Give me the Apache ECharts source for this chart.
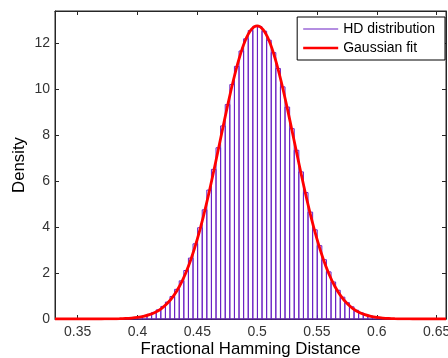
<!DOCTYPE html>
<html>
<head>
<meta charset="utf-8">
<script src="https://cdn.jsdelivr.net/npm/echarts@6/dist/echarts.min.js"></script>
<style>html,body{margin:0;padding:0;background:#fff}#c{width:448px;height:358px}</style>
</head>
<body>
<div id="c"></div>
<script>
// Histogram binning (bin edges of the HD histogram)
const binStart = 0.3311;
const binWidth = 0.003844;
const firstBinIndex = 14;
// Densities of the histogram bins
const densities = [
  0.01, 0.025, 0.044, 0.066, 0.097, 0.141, 0.20, 0.286, 0.398, 0.546,
  0.737, 0.98, 1.29, 1.66, 2.11, 2.65, 3.27, 3.97, 4.75, 5.61,
  6.51, 7.45, 8.40, 9.33, 10.20, 10.99, 11.66, 12.19, 12.55, 12.73,
  12.72, 12.52, 12.13, 11.59, 10.90, 10.10, 9.22, 8.28, 7.34, 6.40,
  5.50, 4.65, 3.88, 3.19, 2.58, 2.05, 1.61, 1.25, 0.95, 0.71,
  0.53, 0.38, 0.27, 0.19, 0.135, 0.092, 0.062, 0.04, 0.025, 0.012
];
// Gaussian fit curve
const fitX = [0.3311, 0.36, 0.37, 0.375, 0.38, 0.385, 0.39, 0.395, 0.40, 0.405, 0.41, 0.415, 0.42, 0.425, 0.43, 0.435, 0.44, 0.445, 0.45, 0.455, 0.46, 0.465, 0.47, 0.475, 0.48, 0.485, 0.49, 0.495, 0.50,
  0.505, 0.51, 0.515, 0.52, 0.525, 0.53, 0.535, 0.54, 0.545, 0.55, 0.555, 0.56, 0.565, 0.57, 0.575, 0.58, 0.585, 0.59, 0.595, 0.60, 0.605, 0.61, 0.615, 0.62, 0.625, 0.63, 0.64, 0.6578];
const fitY = [0, 0, 0.001, 0.003, 0.006, 0.012, 0.023, 0.041, 0.070, 0.116, 0.189, 0.297, 0.456, 0.683, 0.996, 1.415, 1.960, 2.642, 3.472, 4.446, 5.546, 6.741, 7.983, 9.211, 10.354, 11.341, 12.104, 12.586, 12.75,
  12.586, 12.104, 11.341, 10.354, 9.211, 7.983, 6.741, 5.546, 4.446, 3.472, 2.642, 1.960, 1.415, 0.996, 0.683, 0.456, 0.297, 0.189, 0.116, 0.070, 0.041, 0.023, 0.012, 0.006, 0.003, 0.001, 0, 0];
const xTicks = [0.35, 0.4, 0.45, 0.5, 0.55, 0.6, 0.65];
const yTicks = [0, 2, 4, 6, 8, 10, 12];
const seriesNames = ['HD distribution', 'Gaussian fit'];

const purple = '#6a1fc4';
const red = '#ff0000';
const axisColor = '#262626';
const font = "'Liberation Sans', Arial, sans-serif";

const barData = densities.map((d, i) => {
  const lo = binStart + (firstBinIndex + i) * binWidth;
  return [lo, lo + binWidth, d];
});
const fitData = fitX.map((x, i) => [x, fitY[i]]);

const chart = echarts.init(document.getElementById('c'), null, {renderer: 'canvas'});
const xMin = 0.3311, xMax = 0.6578, yMax = 13.4;
const commonAxisLine = {show: true, onZero: false, lineStyle: {color: axisColor, width: 1}};
chart.setOption({
  animation: false,
  backgroundColor: '#fff',
  textStyle: {fontFamily: font},
  grid: {left: 55, right: 2, top: 11, bottom: 39, outerBoundsMode: 'none', containLabel: false,
    show: true, borderColor: axisColor, borderWidth: 1, backgroundColor: 'transparent'},
  legend: {
    right: 3, top: 17,
    orient: 'vertical',
    backgroundColor: '#fff',
    borderColor: '#000', borderWidth: 1, borderRadius: 0,
    padding: [4, 10, 4, 6],
    itemGap: 3,
    itemWidth: 35, itemHeight: 8,
    textStyle: {fontFamily: font, fontSize: 14, color: '#000', lineHeight: 16},
    data: [
      {name: seriesNames[0], icon: 'path://M0,0L100,0L100,3L0,3Z', itemStyle: {color: purple}},
      {name: seriesNames[1], icon: 'path://M0,0L100,0L100,7L0,7Z', itemStyle: {color: red}}
    ]
  },
  xAxis: [{
    type: 'value', min: xMin, max: xMax,
    name: 'Fractional Hamming Distance', nameLocation: 'middle', nameGap: 22, nameMoveOverlap: false,
    nameTextStyle: {fontFamily: font, fontSize: 16.8, color: '#000'},
    axisLine: commonAxisLine,
    axisTick: {show: true, inside: true, length: 4, customValues: xTicks, lineStyle: {color: axisColor}},
    axisLabel: {show: true, customValues: xTicks, margin: 6, fontFamily: font, fontSize: 14, color: '#333',
      formatter: v => String(Math.round(v * 100) / 100)},
    splitLine: {show: false}
  }, {
    type: 'value', min: xMin, max: xMax, position: 'top',
    axisLine: commonAxisLine,
    axisTick: {show: true, inside: true, length: 4, customValues: xTicks, lineStyle: {color: axisColor}},
    axisLabel: {show: false},
    splitLine: {show: false}
  }],
  yAxis: [{
    type: 'value', min: 0, max: yMax,
    name: 'Density', nameLocation: 'middle', nameGap: 27, nameRotate: 90, nameMoveOverlap: false,
    nameTextStyle: {fontFamily: font, fontSize: 16.8, color: '#000'},
    axisLine: commonAxisLine,
    axisTick: {show: true, inside: true, length: 4, customValues: yTicks, lineStyle: {color: axisColor}},
    axisLabel: {show: true, customValues: yTicks, margin: 5, fontFamily: font, fontSize: 14, color: '#333'},
    splitLine: {show: false}
  }, {
    type: 'value', min: 0, max: yMax, position: 'right',
    axisLine: commonAxisLine,
    axisTick: {show: true, inside: true, length: 4, customValues: yTicks, lineStyle: {color: axisColor}},
    axisLabel: {show: false},
    splitLine: {show: false}
  }],
  series: [{
    name: seriesNames[0],
    type: 'custom',
    xAxisIndex: 0, yAxisIndex: 0,
    itemStyle: {color: purple},
    encode: {x: [0, 1], y: 2},
    data: barData,
    renderItem: function (params, api) {
      const p0 = api.coord([api.value(0), api.value(2)]);
      const p1 = api.coord([api.value(1), 0]);
      return {
        type: 'rect',
        shape: {x: p0[0], y: p0[1], width: p1[0] - p0[0], height: p1[1] - p0[1]},
        style: {fill: 'none', stroke: purple, lineWidth: 1}
      };
    },
    z: 2
  }, {
    name: seriesNames[1],
    type: 'line',
    xAxisIndex: 0, yAxisIndex: 0,
    data: fitData,
    showSymbol: false, symbol: 'none',
    smooth: 0.3,
    lineStyle: {color: red, width: 2.8},
    itemStyle: {color: red},
    z: 3
  }]
});
</script>
</body>
</html>
